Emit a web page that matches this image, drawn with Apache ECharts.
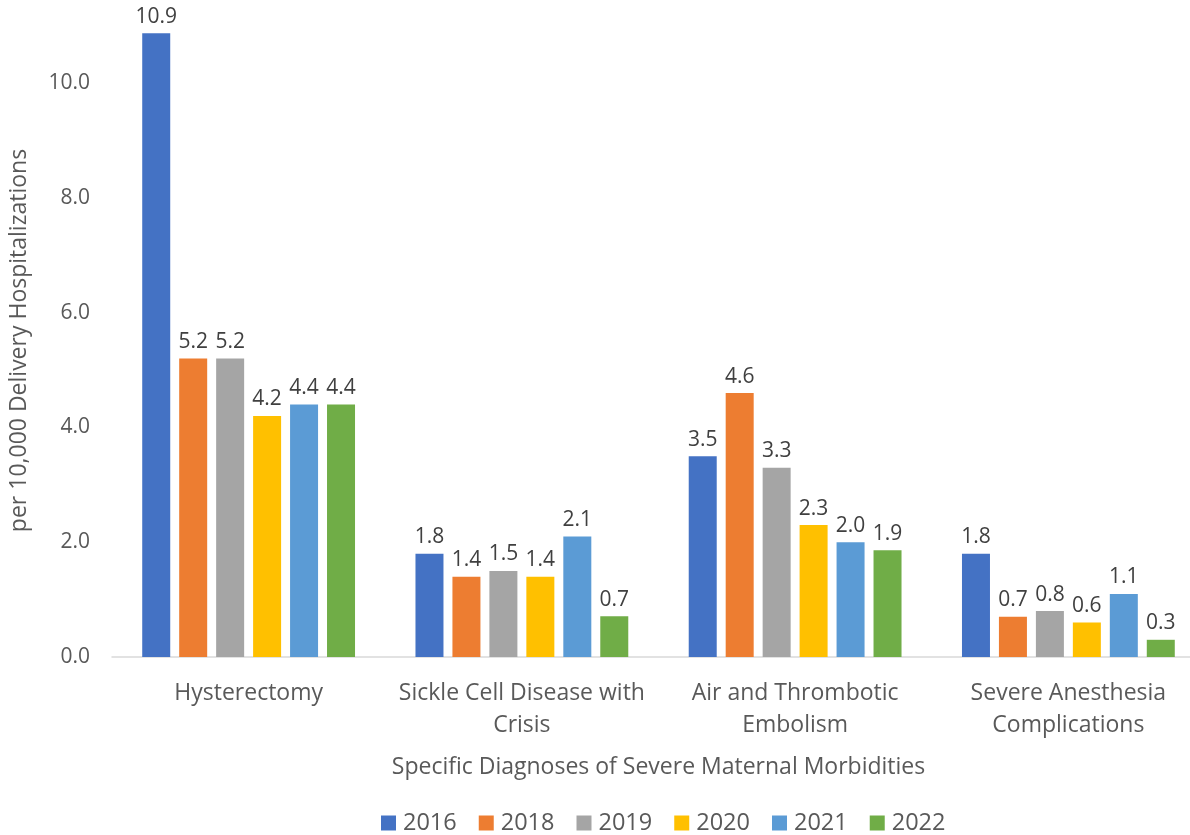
<!DOCTYPE html>
<html><head><meta charset="utf-8">
<script src="https://cdn.jsdelivr.net/npm/echarts@6/dist/echarts.min.js"></script>
<style>html,body{margin:0;padding:0;background:#fff;overflow:hidden}#c{width:1214px;height:835px}</style>
</head><body><div id="c"></div>
<script>
const categories = ['Hysterectomy', 'Sickle Cell Disease with\nCrisis', 'Air and Thrombotic\nEmbolism', 'Severe Anesthesia\nComplications'];
const years = ['2016', '2018', '2019', '2020', '2021', '2022'];
const v2016 = [10.87, 1.8, 3.5, 1.8];
const v2018 = [5.2, 1.4, 4.6, 0.7];
const v2019 = [5.2, 1.5, 3.3, 0.8];
const v2020 = [4.2, 1.4, 2.3, 0.6];
const v2021 = [4.4, 2.1, 2.0, 1.1];
const v2022 = [4.4, 0.71, 1.86, 0.3];
const yTicks = [0, 2, 4, 6, 8, 10];
const colors = ['#4472C4', '#ED7D31', '#A5A5A5', '#FFC000', '#5B9BD5', '#70AD47'];
const values = [v2016, v2018, v2019, v2020, v2021, v2022];
const FONT = 'Open Sans';
const chart = echarts.init(document.getElementById('c'));
chart.setOption({
  animation: false,
  textStyle: { fontFamily: FONT },
  grid: { left: 109, width: 1096, top: 0, bottom: 178, containLabel: false },
  legend: {
    top: 811, left: 381, padding: 0,
    itemWidth: 15, itemHeight: 15, itemGap: 22,
    icon: 'rect',
    textStyle: { fontSize: 23.5, color: '#595959', fontFamily: FONT, padding: [0, 0, 0, 2] },
    data: years
  },
  xAxis: {
    type: 'category',
    data: categories,
    axisLine: { lineStyle: { color: '#D9D9D9', width: 1.5 } },
    axisTick: { show: false },
    axisLabel: { fontSize: 23, color: '#595959', lineHeight: 32, margin: 20, interval: 0 },
    name: 'Specific Diagnoses of Severe Maternal Morbidities',
    nameLocation: 'middle', nameGap: 99,
    nameTextStyle: { fontSize: 23, color: '#595959' }
  },
  yAxis: {
    type: 'value', min: 0, max: 11.45, interval: 2,
    splitLine: { show: false },
    axisLine: { show: false },
    axisTick: { show: false },
    axisLabel: {
      fontSize: 21, color: '#595959', margin: 22,
      showMaxLabel: false,
      formatter: v => yTicks.includes(Math.round(v * 100) / 100) ? v.toFixed(1) : ''
    },
    name: 'per 10,000 Delivery Hospitalizations',
    nameLocation: 'middle', nameGap: 81,
    nameTextStyle: { fontSize: 23, color: '#595959', padding: [0, 24, 0, 0] }
  },
  series: years.map((y, i) => ({
    name: y, type: 'bar', data: values[i],
    barWidth: 28, barGap: '32%',
    itemStyle: { color: colors[i] },
    label: {
      show: true, position: 'top', distance: 6,
      fontSize: 21, color: '#404040',
      formatter: p => p.value.toFixed(1)
    }
  }))
});
</script></body></html>
